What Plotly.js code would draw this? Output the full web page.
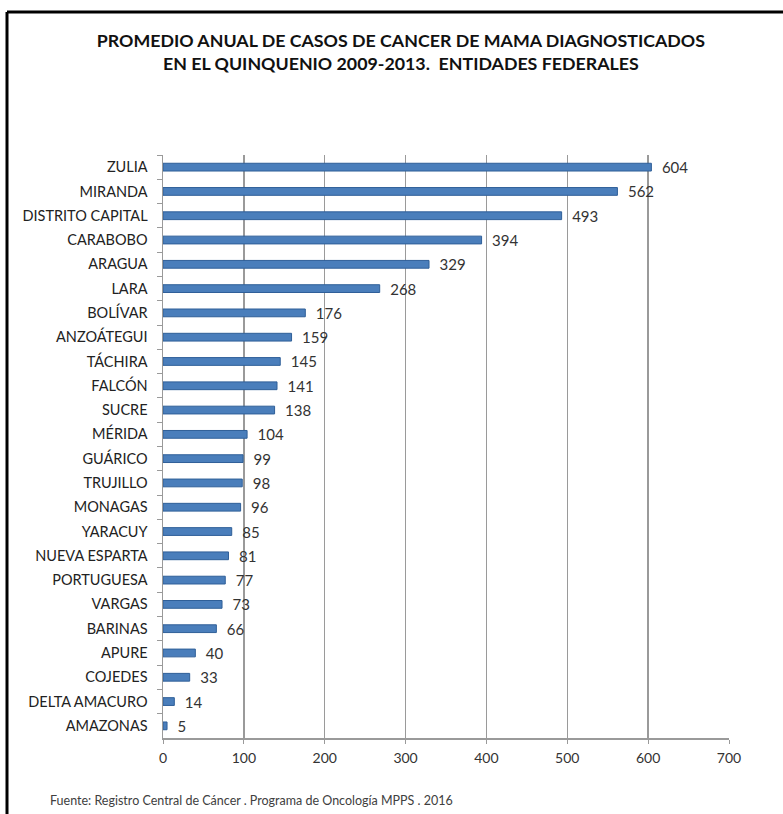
<!DOCTYPE html>
<html>
<head>
<meta charset="utf-8">
<script src="https://cdn.plot.ly/plotly-3.0.1.min.js"></script>
<style>html,body{margin:0;padding:0;background:#fff;}#chart{width:783px;height:814px;}</style>
</head>
<body>
<div id="chart"></div>
<script>
const states = ["ZULIA","MIRANDA","DISTRITO CAPITAL","CARABOBO","ARAGUA","LARA","BOLÍVAR","ANZOÁTEGUI","TÁCHIRA","FALCÓN","SUCRE","MÉRIDA","GUÁRICO","TRUJILLO","MONAGAS","YARACUY","NUEVA ESPARTA","PORTUGUESA","VARGAS","BARINAS","APURE","COJEDES","DELTA AMACURO","AMAZONAS"];
const cases = [604,562,493,394,329,268,176,159,145,141,138,104,99,98,96,85,81,77,73,66,40,33,14,5];
const xTicks = [0,100,200,300,400,500,600,700];
const titleText = "PROMEDIO ANUAL DE CASOS DE CANCER DE MAMA DIAGNOSTICADOS<br>EN EL QUINQUENIO 2009-2013.  ENTIDADES FEDERALES";
const sourceText = "Fuente: Registro Central de Cáncer . Programa de Oncología MPPS . 2016";

const FONT = "Lato, 'Open Sans', sans-serif";
const W = 783, H = 814, L = 163, R = 54, T = 155, B = 76;
const pw = W - L - R, ph = H - T - B;
const px = v => (v - L) / pw;
const py = v => (H - B - v) / ph;

const trace = {
  type: "bar",
  orientation: "h",
  y: states,
  x: cases,
  text: cases.map(v => "\u2002" + v),
  textposition: "outside",
  constraintext: "none",
  cliponaxis: false,
  textfont: {family: FONT, size: 15, color: "#333333"},
  marker: {color: "#4a7ebb", line: {color: "#2f5f98", width: 1}},
  width: 0.32,
  hoverinfo: "skip"
};

const layout = {
  width: W, height: H,
  margin: {l: L, r: R, t: T, b: B, pad: 0},
  paper_bgcolor: "#ffffff",
  plot_bgcolor: "#ffffff",
  showlegend: false,
  font: {family: FONT, color: "#333333"},
  title: {
    text: titleText,
    font: {family: FONT, size: 17.8, color: "#111111", weight: "bold"},
    x: 0.512, xanchor: "center",
    y: 1 - 47/H, yanchor: "top", yref: "container"
  },
  xaxis: {
    range: [0, 700],
    tickvals: xTicks,
    ticktext: xTicks.map(String),
    showgrid: true, gridcolor: "#9a9a9a", gridwidth: 1.5,
    zeroline: false,
    showline: true, linecolor: "#9a9a9a", linewidth: 1.5,
    ticks: "outside", ticklen: 4, tickcolor: "#9a9a9a",
    ticklabelstandoff: 3,
    tickfont: {family: FONT, size: 14, color: "#333333"},
    fixedrange: true
  },
  yaxis: {
    type: "category",
    autorange: "reversed",
    showgrid: false, zeroline: false,
    showline: true, linecolor: "#9a9a9a", linewidth: 1.5,
    ticks: "outside", ticklen: 5, tickcolor: "#9a9a9a",
    tickson: "boundaries",
    tickfont: {family: FONT, size: 14.5, color: "#222222"},
    ticklabelstandoff: 11,
    fixedrange: true
  },
  shapes: [
    {type: "line", xref: "paper", yref: "paper", x0: px(7), x1: px(7), y0: py(H + 5), y1: py(12), line: {color: "#000000", width: 3}},
    {type: "line", xref: "paper", yref: "paper", x0: px(7), x1: px(W + 5), y0: py(12), y1: py(12), line: {color: "#000000", width: 3}}
  ],
  annotations: [
    {text: sourceText, xref: "paper", yref: "paper", x: px(48), y: py(800), xanchor: "left", yanchor: "middle", showarrow: false, font: {family: FONT, size: 12.5, color: "#404040"}}
  ]
};

Plotly.newPlot("chart", [trace], layout, {displayModeBar: false, staticPlot: true});
</script>
</body>
</html>
